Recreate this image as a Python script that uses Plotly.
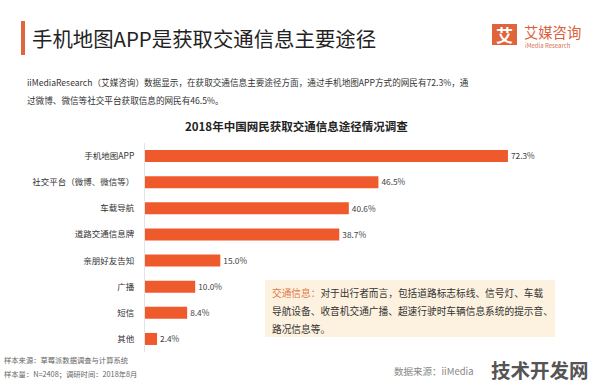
import plotly.graph_objects as go

categories = ["手机地图APP", "社交平台（微博、微信等）", "车载导航", "道路交通信息牌",
              "亲朋好友告知", "广播", "短信", "其他"]
values = [72.3, 46.5, 40.6, 38.7, 15.0, 10.0, 8.4, 2.4]
value_labels = [f"{v:.1f}%" for v in values]

W, H = 596, 386
L, R, T, B = 145, 51, 143, 34
PW, PH = W - L - R, H - T - B
FONT = "Noto Sans CJK SC"
ORANGE = "#EF5A2C"


def px(x):
    return (x - L) / PW


def py(y):
    return (H - B - y) / PH


fig = go.Figure()
fig.add_trace(go.Bar(
    x=values, y=categories, orientation="h",
    marker=dict(color=ORANGE, line=dict(width=0)),
    width=0.46,
    text=value_labels, textposition="outside", cliponaxis=False,
    textfont=dict(size=9, color="#444", family=FONT),
    hoverinfo="skip",
))

ann = []
shapes = []

# header
shapes.append(dict(type="rect", xref="paper", yref="paper", x0=px(21), x1=px(25), y0=py(55), y1=py(21),
                   fillcolor="#E0663F", line=dict(width=0), layer="below"))
ann.append(dict(x=px(30), y=py(38), xref="paper", yref="paper", xanchor="left", yanchor="middle",
                text="手机地图APP是获取交通信息主要途径", showarrow=False,
                font=dict(size=20.4, color="#222", family=FONT)))
# logo
shapes.append(dict(type="rect", xref="paper", yref="paper", x0=px(492), x1=px(517), y0=py(45), y1=py(24),
                   fillcolor="#E0643C", line=dict(width=0), layer="below"))
ann.append(dict(x=px(504.5), y=py(34.5), xref="paper", yref="paper", xanchor="center", yanchor="middle",
                text="<b>艾</b>", showarrow=False,
                font=dict(size=17, color="white", family=FONT)))
ann.append(dict(x=px(522), y=py(31), xref="paper", yref="paper", xanchor="left", yanchor="middle",
                text="艾媒咨询", showarrow=False, font=dict(size=14.3, color="#D9603A", family=FONT)))
ann.append(dict(x=px(523), y=py(45), xref="paper", yref="paper", xanchor="left", yanchor="middle",
                text="iMedia Research", showarrow=False, font=dict(size=6, color="#D9704F", family=FONT)))

# subtitle
ann.append(dict(x=px(25), y=py(82), xref="paper", yref="paper", xanchor="left", yanchor="middle",
                text="iiMediaResearch（艾媒咨询）数据显示，在获取交通信息主要途径方面，通过手机地图APP方式的网民有72.3%，通",
                showarrow=False, font=dict(size=8.6, color="#333", family=FONT)))
ann.append(dict(x=px(25), y=py(100), xref="paper", yref="paper", xanchor="left", yanchor="middle",
                text="过微博、微信等社交平台获取信息的网民有46.5%。",
                showarrow=False, font=dict(size=8.6, color="#333", family=FONT)))

# chart title
ann.append(dict(x=px(296), y=py(126), xref="paper", yref="paper", xanchor="center", yanchor="middle",
                text="<b>2018年中国网民获取交通信息途径情况调查</b>",
                showarrow=False, font=dict(size=11.5, color="#222", family=FONT)))

# note box
shapes.append(dict(type="rect", xref="paper", yref="paper", x0=px(265), x1=px(555), y0=py(337), y1=py(280),
                   fillcolor="#FDF2DF", line=dict(width=0), layer="below"))
note_lines = [
    "<span style='color:#E0784A'>交通信息：</span>对于出行者而言，包括道路标志标线、信号灯、车载",
    "导航设备、收音机交通广播、超速行驶时车辆信息系统的提示音、",
    "路况信息等。",
]
for i, t in enumerate(note_lines):
    ann.append(dict(x=px(270), y=py(293 + i * 18), xref="paper", yref="paper", xanchor="left",
                    yanchor="middle", text=t, showarrow=False,
                    font=dict(size=9.7, color="#333", family=FONT)))

# footer
ann.append(dict(x=px(2), y=py(360), xref="paper", yref="paper", xanchor="left", yanchor="middle",
                text="样本来源：草莓派数据调查与计算系统", showarrow=False,
                font=dict(size=7.3, color="#666", family=FONT)))
ann.append(dict(x=px(2), y=py(374), xref="paper", yref="paper", xanchor="left", yanchor="middle",
                text="样本量：N=2408；调研时间：2018年8月", showarrow=False,
                font=dict(size=7.3, color="#666", family=FONT)))
ann.append(dict(x=px(392), y=py(371), xref="paper", yref="paper", xanchor="left", yanchor="middle",
                text="数据来源：iiMedia", showarrow=False,
                font=dict(size=9.5, color="#888", family=FONT)))
ann.append(dict(x=px(591), y=py(369), xref="paper", yref="paper", xanchor="right", yanchor="middle",
                text="<b>技术开发网</b>", showarrow=False,
                font=dict(size=19.5, color="#555", family=FONT)))

fig.update_layout(
    width=W, height=H,
    margin=dict(l=L, r=R, t=T, b=B, pad=0, autoexpand=False),
    paper_bgcolor="white", plot_bgcolor="rgba(0,0,0,0)",
    showlegend=False,
    font=dict(family=FONT, color="#333"),
    xaxis=dict(range=[0, PW / 5.02], visible=False, showgrid=False, zeroline=False, automargin=False),
    yaxis=dict(categoryorder="array", categoryarray=categories, autorange="reversed",
               showline=True, linecolor="#e4e4e4", linewidth=1, ticks="",
               ticklabelstandoff=8, tickfont=dict(size=8.5, color="#333", family=FONT),
               showgrid=False, zeroline=False, automargin=False),
    annotations=ann, shapes=shapes,
    bargap=0.54,
)

fig.write_html("out.html", config={"displayModeBar": False},
               post_script="document.body.style.margin='0';document.body.style.overflow='hidden';")
